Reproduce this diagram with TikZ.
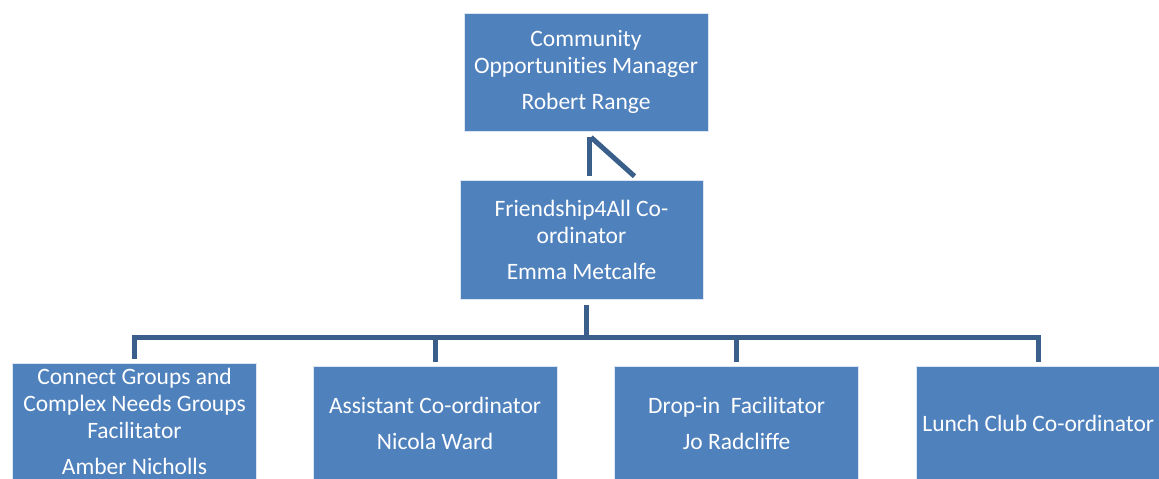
\documentclass[tikz,border=0pt]{standalone}
\usepackage{fontspec}
\setmainfont{Carlito}[Ligatures=NoCommon]
\usetikzlibrary{positioning}
\definecolor{boxblue}{RGB}{79,129,189}
\definecolor{linkblue}{RGB}{58,95,139}
\tikzset{
    %Define style for boxes
    post/.style={
           rectangle,
           fill=boxblue,
           draw=white!80!boxblue,
           line width=0.6pt,
           text=white,
           align=center,
           inner sep=2pt,
           minimum width=244pt,
           minimum height=114pt,
           font=\fontsize{23.5}{27}\selectfont},
    % Define connector style
    link/.style={
           draw=linkblue,
           line width=5pt}
}

\begin{document}
\begin{tikzpicture}[x=1pt, y=-1pt, node distance=49pt]
  \useasboundingbox (0,0) rectangle (1159,479);
  \node[post,minimum height=118pt] (manager) at (586,72) {Community\\Opportunities Manager\\[9pt]Robert Range};
  \node[post,minimum width=243pt,minimum height=119pt,below=49pt of manager,xshift=-4.5pt] (coord) {Friendship4All Co-\\ordinator\\[9pt]Emma Metcalfe};
  \node[post,minimum height=116pt,anchor=north] (connect) at (134.5,363) {Connect Groups and\\Complex Needs Groups\\Facilitator\\[9pt]Amber Nicholls};
  \node[post,right=56pt of connect,yshift=-2pt] (assistant) {Assistant Co-ordinator\\[9pt]Nicola Ward};
  \node[post,right=57pt of assistant] (dropin) {Drop-in\ \ Facilitator\\[9pt]Jo Radcliffe};
  \node[post,right=57pt of dropin] (lunch) {Lunch Club Co-ordinator};
  % links
  \draw[link] ([xshift=3pt,yshift=-6pt]manager.south) -- ([xshift=7.5pt,yshift=4pt]coord.north);
  \draw[link] ([xshift=5pt,yshift=-6pt]manager.south) -- ([xshift=53pt,yshift=4pt]coord.north);
  \coordinate[below=37.5pt of coord,xshift=4.5pt] (bus);
  \draw[link] ([xshift=4.5pt,yshift=-5pt]coord.south) -- (bus);
  \foreach \b in {connect,assistant,dropin,lunch}
    \draw[link] (bus) -| ([yshift=4pt]\b.north);
\end{tikzpicture}
\end{document}
